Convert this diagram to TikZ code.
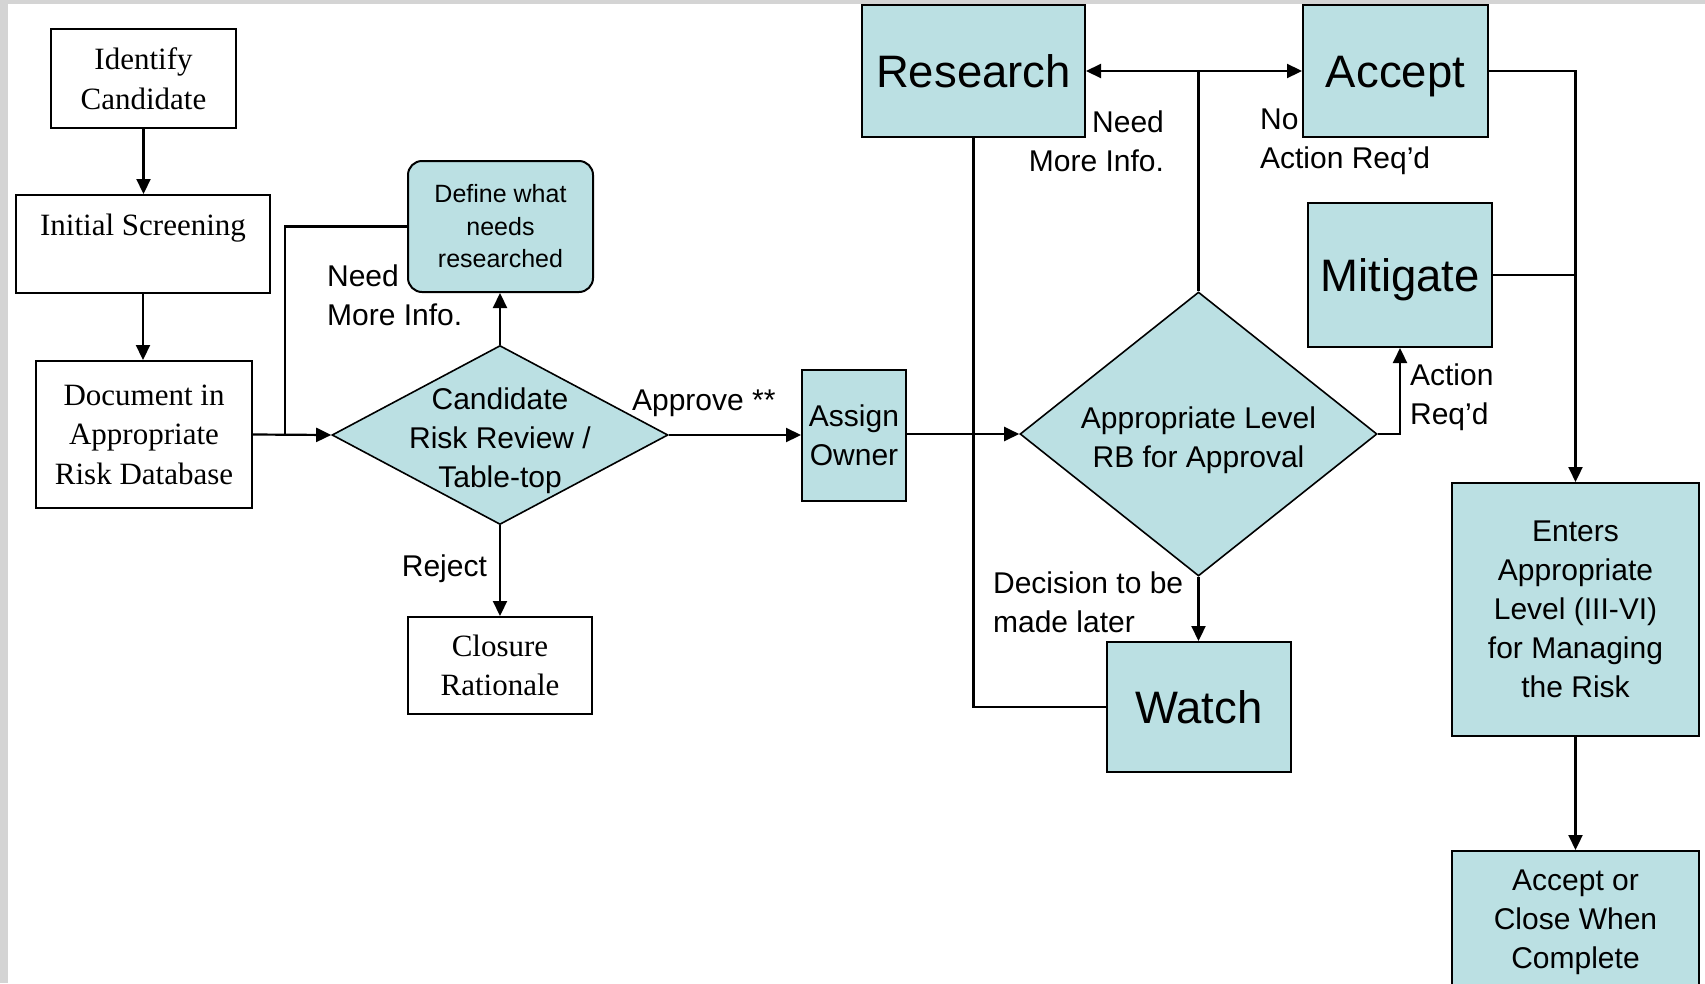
\documentclass[tikz,border=0pt]{standalone}
\usepackage{fontspec}
\setmainfont{Liberation Serif}
\setsansfont{Liberation Sans}
\usetikzlibrary{arrows.meta,shapes.geometric}
\definecolor{riskteal}{RGB}{187,224,227}
\definecolor{slidegray}{RGB}{212,212,212}

\begin{document}
\begin{tikzpicture}[
  x=1pt, y=-1pt,
  >={Triangle[length=15pt,width=14pt]},
  line width=2.2pt,
  wbox/.style={draw, fill=white, line width=2pt, align=center, inner sep=0pt, font=\fontsize{31}{39.5}\selectfont},
  tbox/.style={draw, fill=riskteal, line width=2pt, align=center, inner sep=0pt, font=\sffamily\fontsize{30}{39}\selectfont},
  bigbox/.style={tbox, text height=33pt, text depth=0pt, font=\sffamily\fontsize{45.5}{52}\selectfont},
  dec/.style={diamond, draw, fill=riskteal, inner sep=0pt, line width=1.6pt},
  dectext/.style={align=center, inner sep=0pt, font=\sffamily\fontsize{30}{39}\selectfont},
  lbl/.style={inner sep=0pt, font=\sffamily\fontsize{30}{39}\selectfont}
]
\useasboundingbox (0,0) rectangle (1705,983);
\fill[slidegray] (0,0) rectangle (8,983);
\fill[slidegray] (0,0) rectangle (1705,4);

\node[wbox, minimum width=185pt, minimum height=99pt] (idc) at (143.5,78.5) {Identify\\Candidate};
\node[wbox, minimum width=254pt, minimum height=98pt] (scr) at (143,244) {Initial Screening\\\mbox{}};
\node[wbox, minimum width=216pt, minimum height=147pt] (doc) at (144,434.5) {Document in\\Appropriate\\Risk Database};
\node[tbox, rounded corners=14pt, minimum width=185pt, minimum height=131pt,
      font=\sffamily\fontsize{25}{32.5}\selectfont] (def) at (500.5,226.5) {Define what\\needs\\researched};
\node[dec, minimum width=336pt, minimum height=179pt] (crr) at (500,435) {};
\node[dectext] (crrtxt) at (500,441) {Candidate\\Risk Review /\\Table-top};
\node[wbox, minimum width=184pt, minimum height=97pt] (clo) at (500,665.5) {Closure\\Rationale};
\node[tbox, minimum width=104pt, minimum height=131pt] (own) at (854,435.5) {Assign\\Owner};
\node[dec, minimum width=357pt, minimum height=284pt] (rbd) at (1198.5,434) {};
\node[dectext] (rbdtxt) at (1198.5,440) {Appropriate Level\\RB for Approval};
\node[bigbox, minimum width=223pt, minimum height=132pt] (res) at (973.5,71) {Research};
\node[bigbox, minimum width=185pt, minimum height=132pt] (acc) at (1395.5,71) {Accept};
\node[bigbox, minimum width=184pt, minimum height=144pt] (mit) at (1400,275) {Mitigate};
\node[bigbox, minimum width=184pt, minimum height=130pt] (wat) at (1199,707) {Watch};
\node[tbox, minimum width=247pt, minimum height=253pt] (ent) at (1575.5,609.5) {Enters\\Appropriate\\Level (III-VI)\\for Managing\\the Risk};
\node[tbox, minimum width=247pt, minimum height=142pt] (acl) at (1575.5,922) {Accept or\\Close When\\Complete};

\node[lbl, anchor=west, align=left] (needl) at (326,295) {Need\\More Info.};
\node[lbl, anchor=base east] (rej) at (488,576) {Reject};
\node[lbl, anchor=base west] (appr) at (631,410) {Approve **};
\node[lbl, anchor=east, align=right] (needr) at (1165,141) {Need\\More Info.};
\node[lbl, anchor=west, align=left] (noact) at (1259,142) {No\\Action Req'd};
\node[lbl, anchor=west, align=left] (actreq) at (1409,397) {Action\\Req'd};
\node[lbl, anchor=west, align=left] (later) at (992,602) {Decision to be\\made later};

\coordinate (loopend) at (285,435);
\coordinate (split) at (1198.5,71);

\draw[->] (idc.south) -- (idc.south |- scr.north);
\draw[->] (scr.south) -- (scr.south |- doc.north);
\draw[->] (doc.east) -- (crr.west);
\draw (def.west) -| (loopend);
\draw[->] (crr.north) -- (crr.north |- def.south);
\draw[->] (crr.south) -- (clo.north);
\draw[->] (crr.east) -- (crr.east -| own.west);
\draw[->] (own.east |- rbd.west) -- (rbd.west);
\draw (rbd.north) -- (split);
\draw[->] (split) -- (res.east);
\draw[->] (split) -- (acc.west);
\draw[->] (rbd.east) -| (mit.south);
\draw[->] (rbd.south) -- (rbd.south |- wat.north);
\draw (wat.west) -| (res.south);
\draw[->] (acc.east) -| (ent.north);
\draw (mit.east) -- (mit.east -| ent.north);
\draw[->] (ent.south) -- (acl.north);
\end{tikzpicture}
\end{document}
